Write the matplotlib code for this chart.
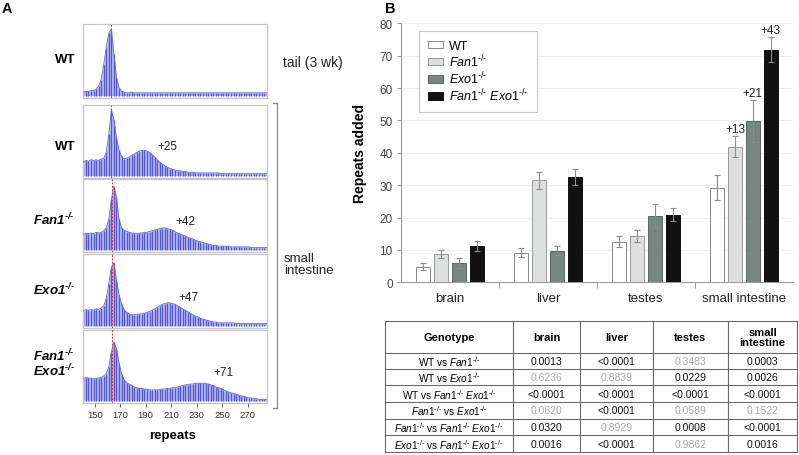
import numpy as np
import matplotlib
matplotlib.use("Agg")
import matplotlib.pyplot as plt
from matplotlib.patches import Patch

plt.rcParams["font.family"] = ["Liberation Sans", "DejaVu Sans"]
plt.rcParams["mathtext.fontset"] = "custom"
plt.rcParams["mathtext.rm"] = "Liberation Sans"
plt.rcParams["mathtext.it"] = "Liberation Sans:italic"
plt.rcParams["mathtext.bf"] = "Liberation Sans:italic:bold"

W, H = 799, 456
KO = "^{\u2010/\u2010}"  # -/- superscript with real hyphens

# ---- panel A: repeat-length traces (peak heights, fraction of panel height) ----
repeat_pos = np.arange(141, 286, 2)
trace_tail_wt = [
    0.08, 0.09, 0.09, 0.10, 0.10, 0.12, 0.16, 0.25, 0.45, 0.68, 0.88, 0.93,
    0.60, 0.28, 0.14, 0.09, 0.08, 0.07, 0.07, 0.08, 0.07, 0.07, 0.07, 0.07,
    0.07, 0.07, 0.07, 0.07, 0.07, 0.07, 0.07, 0.07, 0.07, 0.07, 0.07, 0.07,
    0.07, 0.07, 0.07, 0.07, 0.07, 0.07, 0.07, 0.07, 0.07, 0.07, 0.07, 0.07,
    0.07, 0.07, 0.07, 0.07, 0.07, 0.07, 0.07, 0.07, 0.07, 0.07, 0.07, 0.07,
    0.07, 0.07, 0.07, 0.07, 0.07, 0.07, 0.07, 0.07, 0.07, 0.07, 0.07, 0.07,
    0.07,
]
trace_si_wt = [
    0.22, 0.24, 0.23, 0.25, 0.24, 0.25, 0.24, 0.26, 0.27, 0.35, 0.60, 0.93,
    0.80, 0.55, 0.38, 0.30, 0.26, 0.27, 0.29, 0.31, 0.33, 0.35, 0.37, 0.38,
    0.38, 0.37, 0.35, 0.32, 0.29, 0.25, 0.22, 0.19, 0.17, 0.15, 0.13, 0.12,
    0.11, 0.10, 0.10, 0.09, 0.09, 0.08, 0.08, 0.08, 0.07, 0.07, 0.07, 0.07,
    0.07, 0.07, 0.07, 0.07, 0.07, 0.07, 0.06, 0.06, 0.06, 0.06, 0.06, 0.06,
    0.06, 0.06, 0.06, 0.06, 0.06, 0.06, 0.06, 0.06, 0.06, 0.06, 0.06, 0.06,
    0.06,
]
trace_si_fan1 = [
    0.24, 0.26, 0.25, 0.26, 0.25, 0.27, 0.26, 0.27, 0.29, 0.33, 0.45, 0.72,
    0.90, 0.75, 0.45, 0.33, 0.30, 0.28, 0.27, 0.26, 0.26, 0.25, 0.26, 0.26,
    0.27, 0.27, 0.28, 0.29, 0.30, 0.31, 0.32, 0.33, 0.33, 0.32, 0.31, 0.30,
    0.28, 0.26, 0.25, 0.23, 0.22, 0.20, 0.19, 0.18, 0.16, 0.15, 0.14, 0.13,
    0.12, 0.11, 0.10, 0.09, 0.09, 0.08, 0.08, 0.08, 0.08, 0.08, 0.07, 0.07,
    0.07, 0.07, 0.07, 0.07, 0.07, 0.07, 0.06, 0.06, 0.06, 0.06, 0.06, 0.06,
    0.06,
]
trace_si_exo1 = [
    0.23, 0.25, 0.24, 0.25, 0.24, 0.26, 0.25, 0.27, 0.30, 0.40, 0.60, 0.82,
    0.88, 0.65, 0.45, 0.32, 0.25, 0.21, 0.19, 0.18, 0.18, 0.18, 0.19, 0.19,
    0.20, 0.21, 0.22, 0.24, 0.26, 0.28, 0.30, 0.32, 0.33, 0.34, 0.34, 0.33,
    0.32, 0.30, 0.28, 0.26, 0.24, 0.22, 0.20, 0.18, 0.16, 0.15, 0.13, 0.12,
    0.11, 0.10, 0.09, 0.08, 0.08, 0.07, 0.07, 0.07, 0.07, 0.07, 0.07, 0.07,
    0.06, 0.06, 0.06, 0.06, 0.06, 0.06, 0.06, 0.06, 0.06, 0.06, 0.06, 0.06,
    0.06,
]
trace_si_dko = [
    0.33, 0.35, 0.34, 0.34, 0.33, 0.34, 0.34, 0.35, 0.37, 0.40, 0.50, 0.70,
    0.84, 0.75, 0.55, 0.40, 0.32, 0.28, 0.26, 0.24, 0.22, 0.21, 0.20, 0.20,
    0.19, 0.19, 0.18, 0.18, 0.18, 0.18, 0.19, 0.19, 0.19, 0.20, 0.20, 0.21,
    0.21, 0.22, 0.23, 0.24, 0.25, 0.25, 0.26, 0.26, 0.27, 0.27, 0.27, 0.27,
    0.27, 0.26, 0.25, 0.24, 0.22, 0.21, 0.20, 0.18, 0.17, 0.15, 0.14, 0.13,
    0.12, 0.11, 0.10, 0.09, 0.08, 0.07, 0.07, 0.06, 0.06, 0.05, 0.05, 0.05,
    0.05,
]
traces = [trace_tail_wt, trace_si_wt, trace_si_fan1, trace_si_exo1, trace_si_dko]
ref_repeat = [162.5, 162.5, 163.9, 163.9, 163.9]
gain_text = [None, "+25", "+42", "+47", "+71"]
gain_at = [None, (207, 0.44), (221, 0.42), (223.5, 0.42), (251, 0.42)]
repeat_ticks = [150, 170, 190, 210, 230, 250, 270]

# ---- panel B: repeats added ----
tissues = ["brain", "liver", "testes", "small intestine"]
genotypes = ["WT", r"$\mathit{Fan1}" + KO + "$", r"$\mathit{Exo1}" + KO + "$",
             r"$\mathit{Fan1}" + KO + r"$ $\mathit{Exo1}" + KO + "$"]
mean_wt = [4.8, 9.1, 12.5, 29.2]
mean_fan1 = [8.7, 31.5, 14.2, 41.9]
mean_exo1 = [5.9, 9.7, 20.5, 49.8]
mean_dko = [11.3, 32.4, 20.9, 71.8]
err_wt = [1.1, 1.4, 1.7, 3.9]
err_fan1 = [1.2, 2.7, 1.9, 3.2]
err_exo1 = [1.5, 1.4, 3.7, 6.4]
err_dko = [1.6, 2.5, 2.0, 3.9]
si_gain = ["+13", "+21", "+43"]

# ---- p-value table ----
fan1 = r"$\mathit{Fan1}" + KO + "$"
exo1 = r"$\mathit{Exo1}" + KO + "$"
table_cols = ["Genotype", "brain", "liver", "testes", "small\nintestine"]
table_rows = [
    "WT vs " + fan1,
    "WT vs " + exo1,
    "WT vs " + fan1 + " " + exo1,
    fan1 + " vs " + exo1,
    fan1 + " vs " + fan1 + " " + exo1,
    exo1 + " vs " + fan1 + " " + exo1,
]
p_brain = ["0.0013", "0.6236", "<0.0001", "0.0620", "0.0320", "0.0016"]
p_liver = ["<0.0001", "0.8839", "<0.0001", "<0.0001", "0.8929", "<0.0001"]
p_testes = ["0.3483", "0.0229", "<0.0001", "0.0589", "0.0008", "0.9862"]
p_si = ["0.0003", "0.0026", "<0.0001", "0.1522", "<0.0001", "0.0016"]


def box(x0, y0, x1, y1):
    # pixel box (top-left origin) -> figure fraction rect
    return [x0 / W, 1 - y1 / H, (x1 - x0) / W, (y1 - y0) / H]


fig = plt.figure(figsize=(W / 100, H / 100), dpi=100)

# overlay in pixel units for loose text and the table
ov = fig.add_axes([0, 0, 1, 1], zorder=5)
ov.set_xlim(0, W)
ov.set_ylim(H, 0)
ov.axis("off")

# ---------------- A ----------------
panel_y = [(25, 99), (106, 179), (180, 253), (255, 329), (331, 404)]
base = 0.03
for i, (y0, y1) in enumerate(panel_y):
    ax = fig.add_axes(box(82.7, y0, 267.3, y1))
    h = traces[i]
    ax.fill_between(repeat_pos, base, h, color="#b8baee", lw=0, zorder=1)
    ax.vlines(repeat_pos, base, h, color="#3a41cc", lw=0.9, alpha=0.8, zorder=2)
    ax.plot(repeat_pos, h, color="#5f65d8", lw=0.6, zorder=3)
    ax.axvline(ref_repeat[i], color="#e3302c", lw=0.7, ls=(0, (2, 1.5)), zorder=4)
    if gain_text[i]:
        ax.text(gain_at[i][0], gain_at[i][1], gain_text[i], fontsize=8.5,
                ha="center", va="center", color="#222")
    ax.set_xlim(140.5, 285.5)
    ax.set_ylim(0, 1)
    ax.set_yticks([])
    for s in ax.spines.values():
        s.set_color("#c4c4c4")
        s.set_linewidth(0.9)
    if i == len(panel_y) - 1:
        ax.set_xticks(repeat_ticks)
        ax.tick_params(axis="x", length=3, width=0.7, color="#666",
                       labelsize=6.8, labelcolor="#333", pad=2)
    else:
        ax.set_xticks([])

ov.text(172.3, 436.5, "repeats", fontsize=9.5, fontweight="bold",
        ha="center", va="center")
ov.text(75, 60, "WT", fontsize=9.5, fontweight="bold", ha="right", va="center")
ov.text(75, 147, "WT", fontsize=9.5, fontweight="bold", ha="right", va="center")
bko = "^{\\mathbf{\u2010/\u2010}}"
ov.text(75, 220.5, r"$\mathbf{Fan1}" + bko + "$", fontsize=9.5, ha="right", va="center")
ov.text(75, 290.5, r"$\mathbf{Exo1}" + bko + "$", fontsize=9.5, ha="right", va="center")
ov.text(75, 356.5, r"$\mathbf{Fan1}" + bko + "$", fontsize=9.5, ha="right", va="center")
ov.text(75, 371.5, r"$\mathbf{Exo1}" + bko + "$", fontsize=9.5, ha="right", va="center")
ov.text(283, 63, "tail (3 wk)", fontsize=10, ha="left", va="center", color="#222")
ov.text(284, 265, "small\nintestine", fontsize=9.5, ha="left", va="center",
        color="#222", linespacing=0.95)
ov.plot([272.5, 277, 277, 272.5], [104, 104, 409, 409], color="#8a8a8a", lw=0.9)
ov.text(7, 9, "A", fontsize=10.5, fontweight="bold", ha="center", va="center")
ov.text(390, 9, "B", fontsize=10.5, fontweight="bold", ha="center", va="center")

# ---------------- B ----------------
bx = fig.add_axes(box(401, 24.3, 793, 283.3))
xs = np.arange(len(tissues))
pitch, bw = 0.182, 0.146
means = [mean_wt, mean_fan1, mean_exo1, mean_dko]
errs = [err_wt, err_fan1, err_exo1, err_dko]
fills = ["#ffffff", "#dcdfde", "#7a8583", "#111111"]
edges = ["#8a8a8a", "#9a9a9a", "#5e6664", "#111111"]
for k in range(4):
    bx.bar(xs + (k - 1.5) * pitch, means[k], bw, yerr=errs[k], color=fills[k],
           edgecolor=edges[k], linewidth=0.7, label=genotypes[k], zorder=3,
           error_kw=dict(ecolor="#8c8c8c", elinewidth=0.8, capsize=2, capthick=0.8))
for k, lab in enumerate(si_gain):
    s = k + 1
    bx.annotate(lab, (xs[3] + (s - 1.5) * pitch, means[s][3] + errs[s][3]),
                xytext=(0, 1), textcoords="offset points", ha="center",
                va="bottom", fontsize=8.5, color="#222")
bx.set_xlim(-0.5, 3.5)
bx.set_ylim(0, 80)
bx.set_yticks(range(0, 81, 10))
bx.yaxis.grid(True, color="#eeeeee", lw=0.8, zorder=0)
bx.set_axisbelow(True)
bx.set_xticks([0.5, 1.5, 2.5])
bx.set_xticklabels([])
bx.set_xticks(xs, minor=True)
bx.set_xticklabels(tissues, minor=True)
bx.tick_params(axis="x", which="major", length=4, width=0.7, color="#999")
bx.tick_params(axis="x", which="minor", length=0, labelsize=9.5, pad=7,
               labelcolor="#222")
bx.tick_params(axis="y", length=3, width=0.7, color="#999", labelsize=8.5,
               labelcolor="#444", pad=3)
for side in ["top", "right"]:
    bx.spines[side].set_visible(False)
for side in ["left", "bottom"]:
    bx.spines[side].set_color("#999")
    bx.spines[side].set_linewidth(0.8)
bx.set_ylabel("Repeats added", fontsize=10, fontweight="bold", labelpad=9)
handles = [Patch(facecolor=fills[k], edgecolor=edges[k], lw=0.7) for k in range(4)]
leg = bx.legend(handles, genotypes, loc="upper left",
                bbox_to_anchor=(419 / W, 1 - 32 / H), bbox_transform=fig.transFigure,
                borderaxespad=0, fontsize=9, frameon=True, fancybox=False,
                edgecolor="#c4c4c4", framealpha=1, handlelength=1.25,
                handleheight=0.55, handletextpad=0.45, labelspacing=0.05,
                borderpad=0.7)
leg.get_frame().set_linewidth(0.8)

# ---------------- table ----------------
col_x = [385, 513, 580, 653, 728, 797]
row_y = [322, 353.5, 370, 386.5, 403, 420, 436.5, 453]
line_c = "#6a6a6a"
for y in row_y:
    ov.plot([col_x[0], col_x[-1]], [y, y], color=line_c, lw=0.8)
for x in col_x:
    ov.plot([x, x], [row_y[0], row_y[-1]], color=line_c, lw=0.8)
for j, name in enumerate(table_cols):
    ov.text((col_x[j] + col_x[j + 1]) / 2, (row_y[0] + row_y[1]) / 2, name,
            fontsize=8, fontweight="bold", ha="center", va="center",
            linespacing=0.95)
pcols = [p_brain, p_liver, p_testes, p_si]
for r, lab in enumerate(table_rows):
    yc = (row_y[r + 1] + row_y[r + 2]) / 2
    ov.text((col_x[0] + col_x[1]) / 2, yc, lab, fontsize=7.2, ha="center",
            va="center")
    for j, col in enumerate(pcols):
        val = col[r]
        grey = (not val.startswith("<")) and float(val) > 0.05
        ov.text((col_x[j + 1] + col_x[j + 2]) / 2, yc, val, fontsize=7.5,
                ha="center", va="center", color="#a8a8a8" if grey else "#111")

fig.savefig("out.png", dpi=100)
